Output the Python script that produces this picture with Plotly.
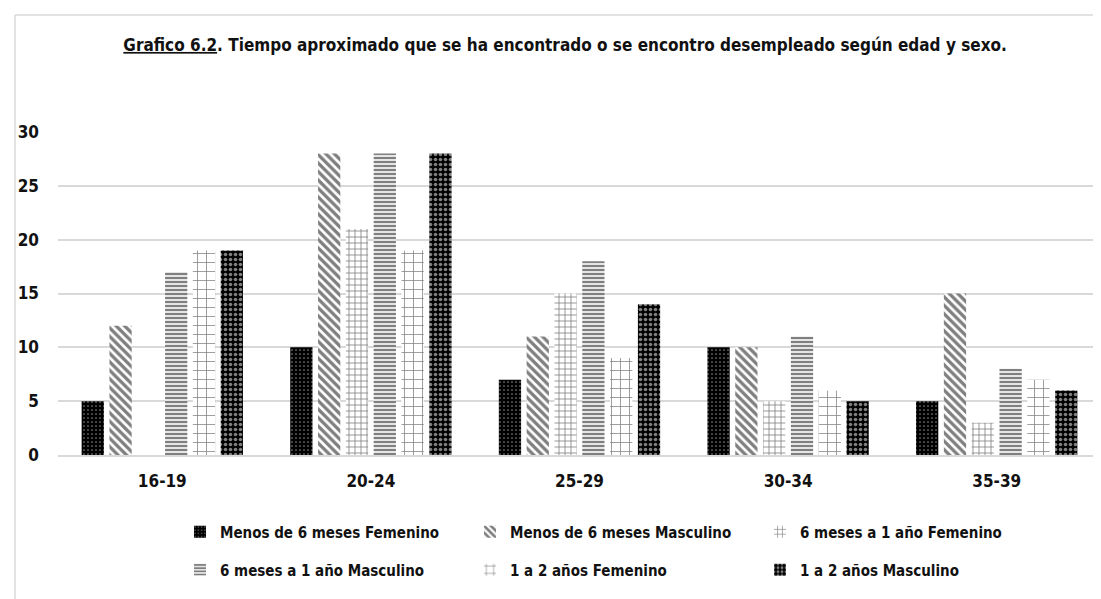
import plotly.graph_objects as go

categories = ["16-19", "20-24", "25-29", "30-34", "35-39"]
series_names = [
    "Menos de 6 meses Femenino",
    "Menos de 6 meses Masculino",
    "6 meses a 1 año Femenino",
    "6 meses a 1 año Masculino",
    "1 a 2 años Femenino",
    "1 a 2 años Masculino",
]
menos6_fem = [5, 10, 7, 10, 5]
menos6_masc = [12, 28, 11, 10, 15]
m6a1_fem = [0, 21, 15, 5, 3]
m6a1_masc = [17, 28, 18, 11, 8]
a1a2_fem = [19, 19, 9, 6, 7]
a1a2_masc = [19, 28, 14, 5, 6]
values = [menos6_fem, menos6_masc, m6a1_fem, m6a1_masc, a1a2_fem, a1a2_masc]

patterns = [
    dict(shape=".", bgcolor="black", fgcolor="white", size=4, solidity=0.15),
    dict(shape="\\", bgcolor="white", fgcolor="black", size=6, solidity=0.55),
    dict(shape="+", bgcolor="white", fgcolor="black", size=6, solidity=0.25),
    dict(shape="-", bgcolor="white", fgcolor="black", size=4, solidity=0.6),
    dict(shape="+", bgcolor="white", fgcolor="black", size=9, solidity=0.16),
    dict(shape=".", bgcolor="black", fgcolor="white", size=5, solidity=0.4),
]

FONT = "Liberation Sans Narrow, DejaVu Sans Condensed, sans-serif"
fig = go.Figure()
for i, (name, vals, pat) in enumerate(zip(series_names, values, patterns)):
    fig.add_trace(go.Bar(
        x=categories, y=vals, name=name,
        marker=dict(color="white", line=dict(width=0), pattern=pat),
        legend="legend" if i < 3 else "legend2",
    ))

def px_x(p):
    return (p - 50) / 1043

def px_y(p):
    return (447 - p) / 323

leg_common = dict(
    orientation="h", xanchor="left", yanchor="middle",
    entrywidth=245, entrywidthmode="pixels",
    font=dict(family=FONT, size=15, color="#111", weight="bold"),
    bgcolor="rgba(0,0,0,0)", itemclick=False,
)

fig.update_layout(
    width=1101, height=599,
    margin=dict(l=50, r=8, t=124, b=152),
    paper_bgcolor="white", plot_bgcolor="white",
    font=dict(family=FONT, size=17, color="#111", weight="bold"),
    barmode="group", bargap=0.2, bargroupgap=0.2,
    title=dict(
        text="<u>Grafico 6.2</u>. Tiempo aproximado que se ha encontrado o se encontro desempleado según edad y sexo.",
        x=0.506, xanchor="center", xref="container",
        y=1 - 37 / 599, yanchor="middle", yref="container",
        font=dict(family=FONT, size=17, color="#111", weight="bold"),
    ),
    legend=dict(x=px_x(172), y=px_y(524), **leg_common),
    legend2=dict(x=px_x(172), y=px_y(562), **leg_common),
    xaxis=dict(
        showgrid=False, showline=True, linecolor="#d9d9d9", linewidth=1.5,
        ticks="", ticklabelstandoff=10,
        tickfont=dict(family=FONT, size=17, color="#111", weight="bold"),
    ),
    yaxis=dict(
        range=[0, 30], dtick=5, showgrid=True, gridcolor="#d9d9d9", gridwidth=1.5,
        zeroline=False, showline=False, ticks="", ticklabelstandoff=18,
        tickfont=dict(family=FONT, size=17, color="#111", weight="bold"),
    ),
    shapes=[
        dict(type="line", xref="paper", yref="paper",
             x0=px_x(7), x1=px_x(7), y0=px_y(7), y1=px_y(620),
             line=dict(color="#d9d9d9", width=1.5)),
        dict(type="line", xref="paper", yref="paper",
             x0=px_x(7), x1=px_x(1120), y0=px_y(7), y1=px_y(7),
             line=dict(color="#d9d9d9", width=1.5)),
    ],
)

fig.write_html("out.html")
